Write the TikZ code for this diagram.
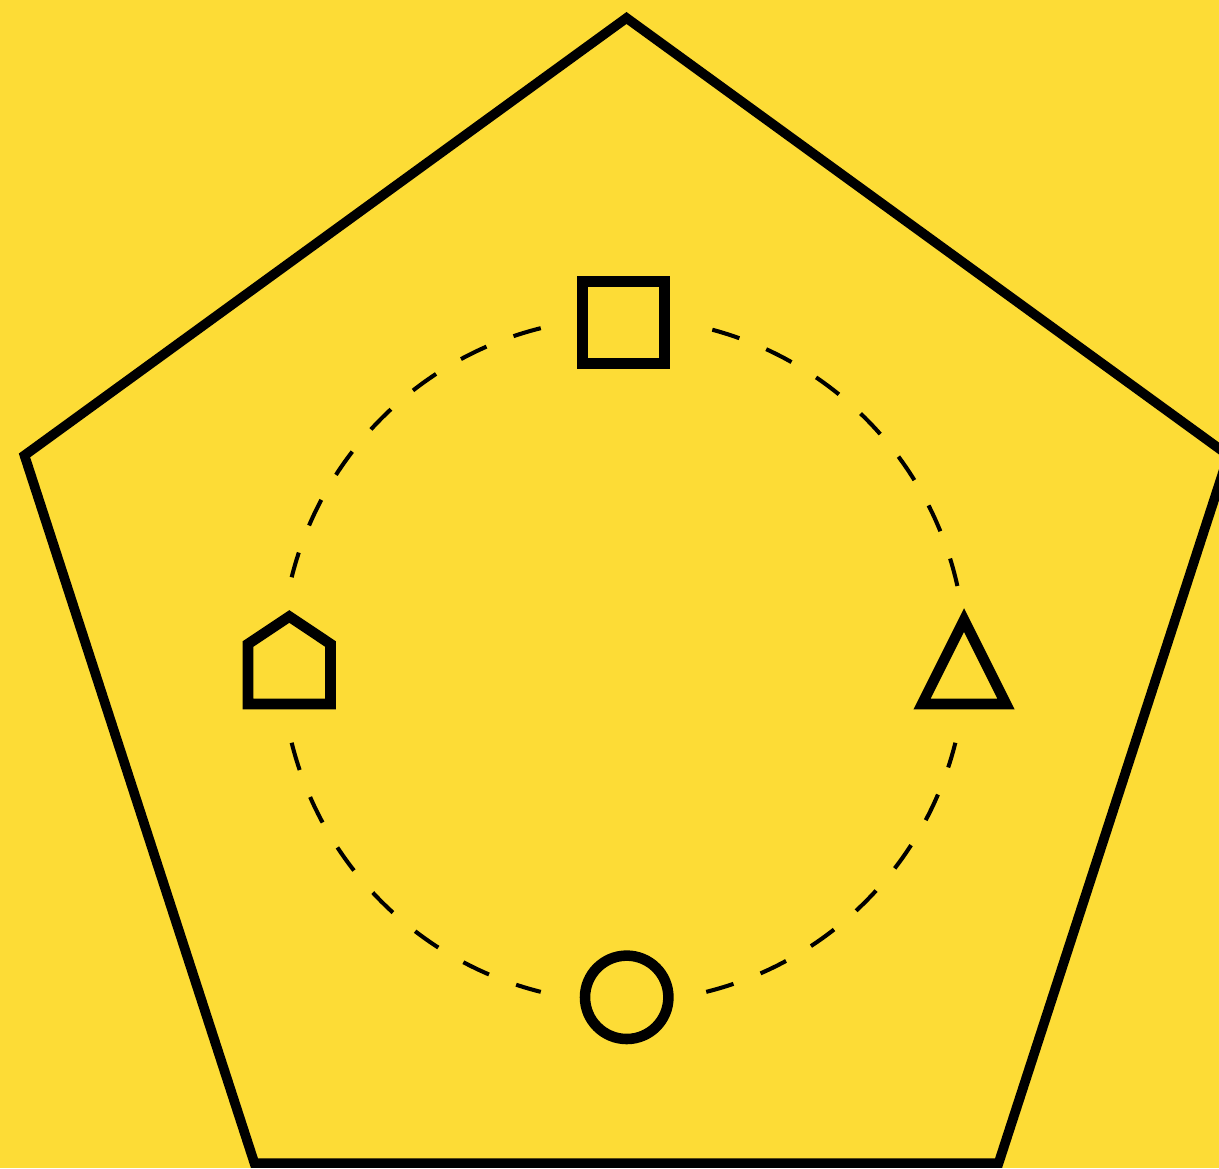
\documentclass[tikz,border=0pt]{standalone}
\usepackage{tikz}
\usetikzlibrary{calc}
\definecolor{bgyellow}{HTML}{FDDC36}

\begin{document}
\begin{tikzpicture}[
    outer/.style={draw=black, line width=2.75pt},
    ring/.style={draw=black, line width=1.15pt, dash pattern=on 0.284cm off 0.29cm},
    glyph/.style={draw=black, line width=3pt}]
  % background and frame
  \fill[bgyellow] (0,0) rectangle (12.19,11.68);
  \useasboundingbox (0,0) rectangle (12.19,11.68);
  \clip (0,0) rectangle (12.19,11.68);
  % big pentagon
  \coordinate (pc) at (6.265,5.17);
  \draw[outer] ($(pc)+(90:6.33)$) -- ($(pc)+(162:6.33)$) -- ($(pc)+(234:6.33)$)
    -- ($(pc)+(306:6.33)$) -- ($(pc)+(18:6.33)$) -- cycle;
  % dashed ring between the glyphs
  \coordinate (rc) at (6.235,5.08);
  \foreach \s/\e in {12.5/76,104/166,194/256,284/346}
    \draw[ring] ($(rc)+(\s:3.42)$) arc[start angle=\s, end angle=\e, radius=3.42cm];
  % glyphs
  \draw[glyph] (5.823,8.043) rectangle (6.643,8.863);
  \draw[glyph] (2.48,4.64) -- (3.305,4.64) -- (3.305,5.24) -- (2.893,5.515) -- (2.48,5.24) -- cycle;
  \draw[glyph] (9.22,4.64) -- (10.06,4.64) -- (9.64,5.48) -- cycle;
  \draw[glyph] (6.267,1.707) circle[radius=0.417];
\end{tikzpicture}
\end{document}
